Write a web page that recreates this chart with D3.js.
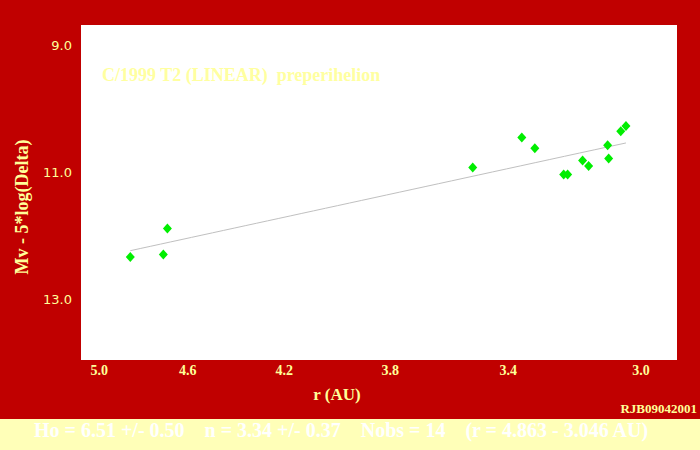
<!DOCTYPE html>
<html><head><meta charset="utf-8">
<script src="https://cdn.jsdelivr.net/npm/d3@7"></script>
<style>html,body{margin:0;padding:0;background:#c00000;}svg{display:block;}</style>
</head><body>
<script>
// Data
const rAU = [4.856, 4.707, 4.689, 3.516, 3.357, 3.316, 3.227, 3.215, 3.170, 3.152, 3.096, 3.093, 3.058, 3.043];
const mag = [12.34, 12.30, 11.89, 10.93, 10.46, 10.63, 11.04, 11.04, 10.82, 10.91, 10.58, 10.79, 10.36, 10.28];
const xTicks = [5.0, 4.6, 4.2, 3.8, 3.4, 3.0];
const yTicks = [9.0, 11.0, 13.0];
const H0 = 6.51, nSlope = 3.34;
const title = "C/1999 T2 (LINEAR)  preperihelion";
const xTitle = "r (AU)";
const yTitle = "Mv - 5*log(Delta)";
const credit = "RJB09042001";
const summary = "Ho = 6.51 +/- 0.50    n = 3.34 +/- 0.37    Nobs = 14    (r = 4.863 - 3.046 AU)";

const W = 700, H = 450;
const L = 81, R = 677, T = 25, B = 360;
const svg = d3.select("body").append("svg").attr("width", W).attr("height", H);
svg.append("rect").attr("width", W).attr("height", H).attr("fill", "#c00000");
svg.append("rect").attr("x", 0).attr("y", 419).attr("width", W).attr("height", 31).attr("fill", "#ffffb8");
svg.append("rect").attr("x", L).attr("y", T).attr("width", R - L).attr("height", B - T).attr("fill", "#ffffff");

const x = d3.scaleLog().domain([5.087, 2.9]).range([L, R]);
const y = d3.scaleLinear().domain([8.69, 13.96]).range([T, B]);

const tickCol = "#ffff99";
// x tick labels
svg.append("g").selectAll("text").data(xTicks).join("text")
  .attr("x", d => x(d)).attr("y", 375)
  .attr("text-anchor", "middle")
  .attr("font-family", "Liberation Serif, serif").attr("font-weight", "bold").attr("font-size", 14)
  .attr("fill", tickCol).text(d => d.toFixed(1));
// y tick labels
svg.append("g").selectAll("text").data(yTicks).join("text")
  .attr("x", 72).attr("y", d => y(d) + 5)
  .attr("text-anchor", "end")
  .attr("font-family", "DejaVu Sans, sans-serif").attr("font-size", 13)
  .attr("fill", tickCol).text(d => d.toFixed(1));

// fit line over the observed range
const ext = d3.extent(rAU);
const fit = d3.range(0, 41).map(i => {
  const r = ext[1] + (ext[0] - ext[1]) * i / 40;
  return [r, H0 + 2.5 * nSlope * Math.log10(r)];
});
svg.append("path").datum(fit)
  .attr("d", d3.line().x(d => x(d[0])).y(d => y(d[1])))
  .attr("fill", "none").attr("stroke", "#c0c0c0").attr("stroke-width", 1);

// points
const pts = rAU.map((r, i) => [r, mag[i]]);
svg.append("g").selectAll("path").data(pts).join("path")
  .attr("transform", d => `translate(${x(d[0])},${y(d[1])})`)
  .attr("d", "M0,-5L4.5,0L0,5L-4.5,0Z")
  .attr("fill", "#00ee00");

// title
svg.append("text").attr("x", 102).attr("y", 81)
  .attr("font-family", "Liberation Serif, serif").attr("font-weight", "bold").attr("font-size", 18)
  .attr("fill", "#ffffa0").style("white-space", "pre").text(title);

// axis titles
svg.append("text").attr("x", 337).attr("y", 400).attr("text-anchor", "middle")
  .attr("font-family", "Liberation Serif, serif").attr("font-weight", "bold").attr("font-size", 17)
  .attr("fill", tickCol).text(xTitle);
svg.append("text").attr("transform", "translate(28,207) rotate(-90)").attr("text-anchor", "middle")
  .attr("font-family", "Liberation Serif, serif").attr("font-weight", "bold").attr("font-size", 18)
  .attr("fill", tickCol).text(yTitle);

svg.append("text").attr("x", 697).attr("y", 413).attr("text-anchor", "end")
  .attr("font-family", "Liberation Serif, serif").attr("font-weight", "bold").attr("font-size", 13)
  .attr("fill", tickCol).text(credit);

svg.append("text").attr("x", 34).attr("y", 437)
  .attr("font-family", "Liberation Serif, serif").attr("font-weight", "bold").attr("font-size", 20)
  .attr("fill", "#ffffff").style("white-space", "pre").text(summary);
</script>
</body></html>
